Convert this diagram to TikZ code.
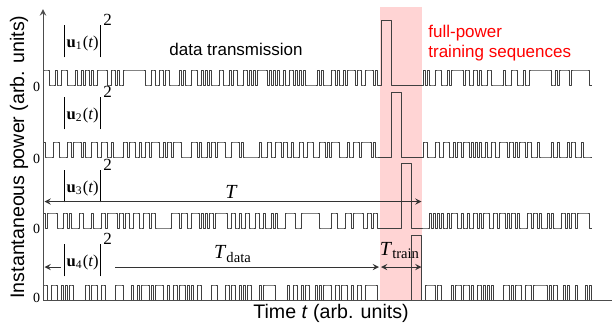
\documentclass[tikz,border=0pt]{standalone}
\usepackage{fontspec}
\setmainfont{Liberation Serif}
\setsansfont{Liberation Sans}
\usetikzlibrary{positioning}
% random on-off data between two x positions (2px per bit)
\newcommand\bitrow[4]{%
  \pgfmathsetseed{#4}%
  \pgfmathtruncatemacro\nbits{(#3-#2)/2-1}%
  \draw[sig] (#2,#1) \foreach \k [evaluate=\k as \lvl using {#1-15*random(0,1)}] in {0,...,\nbits} { -- ({#2+2*\k},\lvl) -- ({#2+2*\k+2},\lvl) } -- (#3,#1);
}
% full-power training pulse inside the band
\newcommand\trainpulse[3]{%
  \draw[sig] (379,#1) -- (#2,#1) -- (#2,#1-65) -- (#3,#1-65) -- (#3,#1) -- (421.5,#1);
}
% squared magnitude label
\newcommand\magbar{\rule[-5pt]{0.5pt}{16pt}}
\newcommand\sqmag[1]{\magbar\kern0.8pt{\bfseries u}\textsubscript{#1}(\textit{t})\kern0.6pt\magbar\kern1.2pt\raisebox{10.8pt}{\fontsize{8.5}{9}\selectfont 2}}
\begin{document}
\begin{tikzpicture}[x=0.5pt, y=-0.5pt, >=stealth, line join=round,
    sig/.style={black!75, line width=0.5pt},
    axis/.style={black!70, line width=0.5pt},
    dim/.style={black!80, line width=0.4pt},
    lab/.style={font=\fontsize{10}{12}\selectfont, inner sep=1pt},
    maglab/.style={font=\fontsize{8.3}{9}\selectfont, inner sep=1.5pt},
    zero/.style={font=\fontsize{7}{8}\selectfont, inner sep=0pt},
    axlab/.style={font=\sffamily\fontsize{9.8}{12}\selectfont},
    note/.style={font=\sffamily\fontsize{8.5}{10}\selectfont, align=left, inner sep=0pt}]
  \useasboundingbox (0,0) rectangle (612,328);
  \fill[red!17] (379.5,7) rectangle (421.5,300);
  % data parts
  \bitrow{85}{43}{379}{11}
  \bitrow{85}{421.5}{591.5}{12}
  \bitrow{157}{43}{379}{21}
  \bitrow{157}{421.5}{591.5}{22}
  \bitrow{228}{43}{379}{31}
  \bitrow{228}{421.5}{591.5}{32}
  \bitrow{300}{43}{379}{41}
  \bitrow{300}{421.5}{591.5}{42}
  % training parts
  \trainpulse{85}{381}{391.7}
  \trainpulse{157}{391.7}{401.7}
  \trainpulse{228}{401.7}{411.7}
  \trainpulse{300}{411.7}{421.5}
  % axes
  \coordinate (O) at (43,300);
  \coordinate (ytop) at (43,9);
  \coordinate (xend) at (612,300);
  \draw[axis,->] (O) -- (ytop);
  \draw[axis] (O) -- (xend);
  \node[axlab, rotate=90] (ylab) at (19,157) {Instantaneous power (arb. units)};
  \node[axlab] (xlab) at (331,313) {Time \textit{t} (arb. units)};
  \node[zero] (z1) at (36.5,87) {0};
  \node[zero] (z2) at (36.5,159) {0};
  \node[zero] (z3) at (36.5,229) {0};
  \node[zero] (z4) at (36.5,298) {0};
  % signal labels
  \node[maglab] (u1) at (88,36) {\sqmag{1}};
  \node[maglab] (u2) at (88,108) {\sqmag{2}};
  \node[maglab] (u3) at (88,181) {\sqmag{3}};
  \node[maglab] (u4) at (88,255) {\sqmag{4}};
  \node[note] (datatx) at (236,49) {data transmission};
  \node[note, text=red, anchor=west] (train) at (428,43) {full-power\\training sequences};
  % durations
  \coordinate (tl) at (44.5,201.5);
  \coordinate (tr) at (421.5,201.5);
  \coordinate (dl) at (44.5,267);
  \coordinate (dr) at (379,267);
  \coordinate (rl) at (381,267);
  \coordinate (rr) at (421.5,267);
  \draw[dim,<->] (tl) -- (tr);
  \draw[dim,->] (u4.west |- dl) -- (dl);
  \draw[dim,->] (u4.east |- dl) -- (dr);
  \draw[dim,<->] (rl) -- (rr);
  \node[lab] (Tall) at (231.5,192) {\textit{T}};
  \node[lab] (Tdata) at (233,254) {\textit{T}\textsubscript{\fontsize{7.3}{8}\selectfont data}};
  \node[lab] (Ttrain) at (400,251) {\textit{T}\textsubscript{\fontsize{7.3}{8}\selectfont train}};
\end{tikzpicture}
\end{document}
